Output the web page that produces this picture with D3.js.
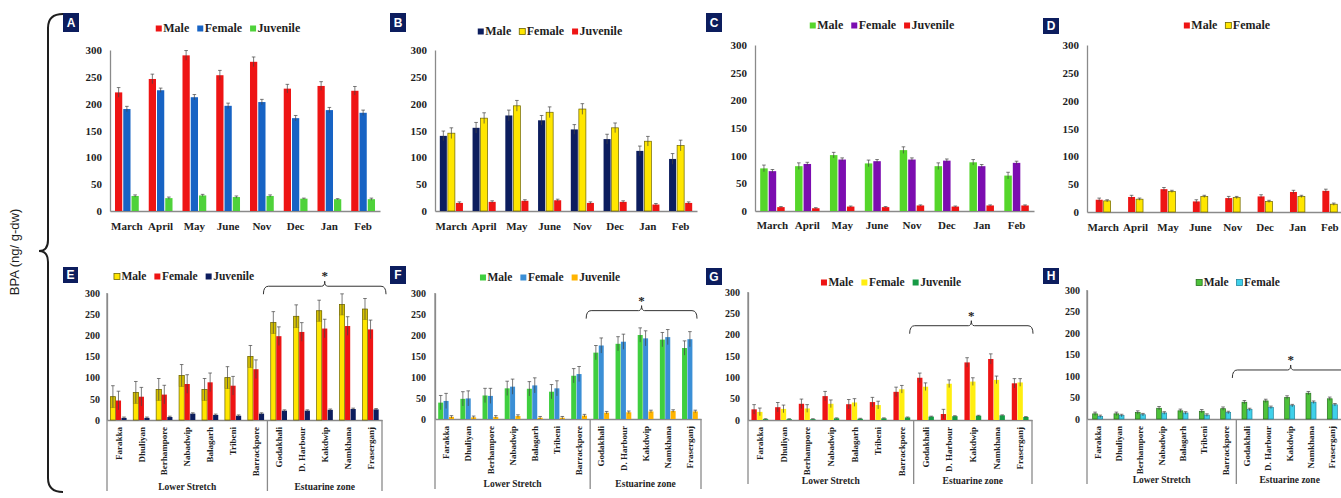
<!DOCTYPE html>
<html>
<head>
<meta charset="utf-8">
<script src="https://cdn.jsdelivr.net/npm/d3@7"></script>
<style>
  html, body { margin: 0; padding: 0; background: #fff; }
  svg { display: block; }
</style>
</head>
<body>
<svg id="fig" width="1341" height="498"></svg>
<script>
// ---- categories and tick labels ----
const months = ["March", "April", "May", "June", "Nov", "Dec", "Jan", "Feb"];
const sites = ["Farakka", "Dhuliyan", "Berhampore", "Nabadwip", "Balagarh", "Tribeni",
               "Barrackpore", "Godakhali", "D. Harbour", "Kakdwip", "Namkhana", "Fraserganj"];
const zones = ["Lower Stretch", "Estuarine zone"];
const zoneStart = ["Farakka", "Godakhali"];
const yTicks = [0, 50, 100, 150, 200, 250, 300];
const axisTitle = "BPA (ng/ g-dw)";

// ---- panel A (monthly) ----
const aMale = [221, 246, 290, 253, 278, 228, 233, 224];
const aMaleErr = [9, 9, 9, 9, 9, 8, 8, 8];
const aFemale = [190, 225, 212, 196, 203, 173, 188, 183];
const aFemaleErr = [5, 4, 5, 5, 5, 5, 5, 5];
const aJuv = [28, 24, 29, 26, 28, 23, 22, 22];
const aJuvErr = [2, 2, 2, 2, 2, 1, 1, 2];

// ---- panel B (monthly) ----
const bMale = [140, 155, 178, 169, 152, 134, 112, 97];
const bMaleErr = [9, 10, 10, 9, 9, 9, 9, 10];
const bFemale = [145, 173, 196, 184, 190, 155, 130, 122];
const bFemaleErr = [10, 10, 10, 10, 10, 9, 9, 10];
const bJuv = [15, 17, 19, 20, 15, 17, 12, 15];
const bJuvErr = [2, 2, 2, 2, 2, 2, 2, 2];

// ---- panel C (monthly) ----
const cMale = [77, 81, 101, 86, 110, 81, 88, 64];
const cMaleErr = [6, 6, 5, 6, 6, 6, 5, 6];
const cFemale = [72, 85, 93, 90, 93, 91, 81, 87];
const cFemaleErr = [3, 3, 3, 3, 3, 3, 3, 3];
const cJuv = [7, 5, 8, 7, 10, 8, 10, 10];
const cJuvErr = [1, 1, 1, 1, 1, 1, 1, 1];

// ---- panel D (monthly) ----
const dMale = [22, 27, 41, 19, 25, 28, 36, 38];
const dMaleErr = [3, 3, 3, 3, 3, 3, 3, 3];
const dFemale = [20, 23, 37, 28, 26, 19, 28, 14];
const dFemaleErr = [2, 2, 2, 2, 2, 2, 2, 2];

// ---- panel E (sites) ----
const eMale = [55, 65, 72, 105, 72, 100, 150, 230, 245, 258, 273, 262];
const eMaleErr = [26, 26, 26, 26, 26, 26, 26, 26, 27, 25, 25, 25];
const eFemale = [46, 55, 60, 85, 89, 81, 120, 198, 208, 216, 222, 214];
const eFemaleErr = [22, 22, 22, 22, 22, 22, 22, 22, 22, 22, 22, 22];
const eJuv = [5, 5, 7, 15, 12, 10, 15, 22, 22, 24, 26, 25];
const eJuvErr = [2, 2, 2, 2, 2, 2, 2, 2, 2, 2, 2, 2];

// ---- panel F (sites) ----
const fMale = [39, 48, 56, 73, 72, 65, 103, 158, 179, 200, 189, 169];
const fMaleErr = [17, 17, 17, 17, 17, 17, 17, 17, 17, 17, 17, 17];
const fFemale = [43, 49, 55, 77, 80, 73, 107, 175, 184, 192, 195, 190];
const fFemaleErr = [18, 18, 18, 18, 18, 18, 18, 18, 18, 18, 18, 18];
const fJuv = [5, 4, 5, 7, 3, 3, 8, 15, 16, 18, 19, 18];
const fJuvErr = [3, 3, 3, 3, 3, 3, 3, 3, 3, 3, 3, 3];

// ---- panel G (sites) ----
const gMale = [25, 30, 38, 56, 37, 42, 66, 99, 14, 135, 143, 86];
const gMaleErr = [11, 11, 11, 11, 11, 11, 11, 11, 11, 11, 12, 11];
const gFemale = [19, 26, 27, 38, 41, 35, 72, 78, 85, 90, 94, 88];
const gFemaleErr = [9, 9, 9, 9, 9, 9, 9, 9, 9, 9, 9, 9];
const gJuv = [2, 2, 2, 4, 3, 4, 6, 8, 9, 10, 11, 7];
const gJuvErr = [1, 1, 1, 1, 1, 1, 1, 1, 1, 1, 1, 1];

// ---- panel H (sites) ----
const hMale = [12, 12, 15, 25, 19, 18, 24, 39, 42, 50, 60, 47];
const hMaleErr = [4, 4, 4, 4, 4, 4, 4, 4, 4, 4, 4, 4];
const hFemale = [6, 8, 10, 14, 14, 9, 15, 22, 27, 31, 39, 33];
const hFemaleErr = [3, 3, 3, 3, 3, 3, 3, 3, 3, 3, 3, 3];

// ---- styling ----
const SERIF = "'Liberation Serif', 'Times New Roman', serif";
const SANS = "'Liberation Sans', Arial, sans-serif";
const AXIS = "#8a8a8a";
const INK = "#1e1e1e";
const NAVY = "#0c1d5e";
const RED = "#ee1414";
const YELLOW = "#ffe600";
const YSTROKE = "#6e6500";

const ser = (name, values, err, fill, stroke, band) => ({ name, values, err, fill, stroke, band });

// layout of the eight panels (pixel geometry lives here, values above)
const panels = [
  { id: "A", cats: months, x0: 110, x1: 380, y0: 211, yTop: 50, tickPad: 8, tickFont: 11,
    legend: [228, 32], box: [63, 13, 16, 19], labelBase: 230,
    series: [ser("Male", aMale, aMaleErr, RED), ser("Female", aFemale, aFemaleErr, "#1763c4"),
             ser("Juvenile", aJuv, aJuvErr, "#4fd23a")] },
  { id: "B", cats: months, x0: 435, x1: 697, y0: 211, yTop: 50, tickPad: 8, tickFont: 11,
    legend: [550, 35], box: [390, 13, 16, 19], labelBase: 230,
    series: [ser("Male", bMale, bMaleErr, NAVY), ser("Female", bFemale, bFemaleErr, YELLOW, YSTROKE),
             ser("Juvenile", bJuv, bJuvErr, RED)] },
  { id: "C", cats: months, x0: 755, x1: 1034, y0: 211, yTop: 45, tickPad: 8, tickFont: 11,
    legend: [882, 29], box: [706, 13, 16, 19], labelBase: 229,
    series: [ser("Male", cMale, cMaleErr, "#55d62a"), ser("Female", cFemale, cFemaleErr, "#7c0db0"),
             ser("Juvenile", cJuv, cJuvErr, RED)] },
  { id: "D", cats: months, x0: 1087, x1: 1346, y0: 212, yTop: 45, tickPad: 8, tickFont: 11,
    legend: [1227, 29], box: [1043, 18, 16, 16], labelBase: 231,
    series: [ser("Male", dMale, dMaleErr, RED), ser("Female", dFemale, dFemaleErr, YELLOW, YSTROKE)] },
  { id: "E", cats: sites, x0: 107, x1: 382, y0: 420, yTop: 293, tickPad: 7, tickFont: 10,
    legend: [184, 280], box: [63, 267, 15, 16], zoneBase: 490, sepBottom: 491, bracket: 316, bracketEnd: 386,
    series: [ser("Male", eMale, eMaleErr, YELLOW, YSTROKE, true), ser("Female", eFemale, eFemaleErr, RED),
             ser("Juvenile", eJuv, eJuvErr, NAVY)] },
  { id: "F", cats: sites, x0: 435, x1: 701, y0: 419, yTop: 293, tickPad: 9, tickFont: 10,
    legend: [550, 281], box: [390, 266, 16, 18], zoneBase: 487, sepBottom: 489, bracket: 258, bracketEnd: 697,
    series: [ser("Male", fMale, fMaleErr, "#3fcf3f"), ser("Female", fFemale, fFemaleErr, "#3b8fd6"),
             ser("Juvenile", fJuv, fJuvErr, "#ffb400")] },
  { id: "G", cats: sites, x0: 748, x1: 1032, y0: 420, yTop: 292, tickPad: 8, tickFont: 10,
    legend: [891, 286], box: [706, 268, 16, 17], zoneBase: 484, sepBottom: 484, bracket: 221, bracketEnd: 1033,
    series: [ser("Male", gMale, gMaleErr, RED), ser("Female", gFemale, gFemaleErr, "#ffee10"),
             ser("Juvenile", gJuv, gJuvErr, "#169a45")] },
  { id: "H", cats: sites, x0: 1087, x1: 1343, y0: 419, yTop: 290, tickPad: 7, tickFont: 10,
    legend: [1238, 286], box: [1043, 268, 16, 16], zoneBase: 483, sepBottom: 484, bracket: 114, bracketEnd: 1349,
    series: [ser("Male", hMale, hMaleErr, "#4dc23a", "#26701c"), ser("Female", hFemale, hFemaleErr, "#3fd0ea", "#23879e")] }
];

const svg = d3.select("#fig");

// big brace on the left with the shared y-axis title
svg.append("path")
  .attr("d", "M63,14 Q48,14 48,28 L48,240 Q48,251 39,251 Q48,251 48,262 L48,478 Q48,492 63,492")
  .attr("fill", "none").attr("stroke", INK).attr("stroke-width", 2);
svg.append("text")
  .attr("transform", "translate(19,252) rotate(-90)")
  .attr("text-anchor", "middle")
  .attr("font-family", SANS).attr("font-size", 13).attr("fill", INK)
  .text(axisTitle);

function drawPanel(p) {
  const g = svg.append("g").attr("class", "panel-" + p.id);
  const x = d3.scaleBand().domain(p.cats).range([p.x0, p.x1]);
  const y = d3.scaleLinear().domain([0, 300]).range([p.y0, p.yTop]);
  const isSites = p.cats === sites;

  // y axis
  const ya = g.append("g").attr("transform", `translate(${p.x0},0)`)
    .call(d3.axisLeft(y).tickValues(yTicks).tickSize(0).tickSizeOuter(0).tickPadding(p.tickPad));
  ya.select(".domain").attr("stroke", AXIS).attr("stroke-width", 1.3);
  ya.selectAll("text").attr("font-family", SERIF).attr("font-weight", "bold")
    .attr("font-size", p.tickFont).attr("fill", INK);

  // x axis
  const xa = g.append("g").attr("transform", `translate(0,${p.y0})`)
    .call(d3.axisBottom(x).tickSize(0).tickSizeOuter(0));
  xa.select(".domain").attr("stroke", AXIS).attr("stroke-width", 1.3);
  const xt = xa.selectAll("text").attr("font-family", SERIF).attr("font-weight", "bold").attr("fill", INK);
  if (isSites) {
    xt.attr("font-size", 9).attr("transform", "rotate(-90)")
      .attr("x", -7).attr("y", 0).attr("dy", "0.35em").attr("text-anchor", "end");
  } else {
    xt.attr("font-size", 11).attr("y", p.labelBase - p.y0).attr("dy", 0);
  }

  // bars + error bars
  const n = p.series.length;
  const bw = x.bandwidth() * (isSites ? 0.225 : 0.215);
  const gap = isSites ? 0.4 : 1;
  const groupW = n * bw + (n - 1) * gap;
  p.series.forEach((s, i) => {
    const off = (x.bandwidth() - groupW) / 2 + i * (bw + gap);
    const rows = p.cats.map((c, j) => ({ c, v: s.values[j], e: s.err[j] }));
    const sg = g.append("g");
    sg.selectAll("rect.bar").data(rows).join("rect").attr("class", "bar")
      .attr("x", d => x(d.c) + off).attr("y", d => y(d.v))
      .attr("width", bw).attr("height", d => y(0) - y(d.v))
      .attr("fill", s.fill)
      .attr("stroke", s.stroke || "none").attr("stroke-width", s.stroke ? 0.7 : 0);
    if (s.band) {
      sg.selectAll("rect.band").data(rows).join("rect").attr("class", "band")
        .attr("x", d => x(d.c) + off).attr("y", d => y(d.v))
        .attr("width", bw).attr("height", d => y(Math.max(0, d.v - d.e)) - y(d.v))
        .attr("fill", "#b5a400").attr("opacity", 0.55)
        .attr("stroke", YSTROKE).attr("stroke-width", 0.6);
    }
    const cx = d => x(d.c) + off + bw / 2;
    sg.selectAll("line.err").data(rows).join("line").attr("class", "err")
      .attr("x1", cx).attr("x2", cx)
      .attr("y1", d => y(Math.max(0, d.v - d.e))).attr("y2", d => y(d.v + d.e))
      .attr("stroke", "#444").attr("stroke-width", 0.7);
    sg.selectAll("line.cap").data(rows).join("line").attr("class", "cap")
      .attr("x1", d => cx(d) - 1.8).attr("x2", d => cx(d) + 1.8)
      .attr("y1", d => y(d.v + d.e)).attr("y2", d => y(d.v + d.e))
      .attr("stroke", "#444").attr("stroke-width", 0.7);
  });

  // zone separators, zone names and significance bracket
  if (isSites) {
    const bounds = [p.x0, x(zoneStart[1]), p.x1];
    g.selectAll("line.sep").data(bounds).join("line").attr("class", "sep")
      .attr("x1", d => d).attr("x2", d => d)
      .attr("y1", (d, i) => i === 0 ? p.yTop : p.y0).attr("y2", p.sepBottom)
      .attr("stroke", AXIS).attr("stroke-width", 1.3);
    g.selectAll("text.zone").data(zones).join("text").attr("class", "zone")
      .attr("x", (d, i) => (bounds[i] + bounds[i + 1]) / 2).attr("y", p.zoneBase)
      .attr("text-anchor", "middle").attr("font-family", SERIF).attr("font-weight", "bold")
      .attr("font-size", 9.5).attr("fill", INK).text(d => d);

    const xl = x(zoneStart[1]) - 4, xr = p.bracketEnd, xm = (xl + xr) / 2;
    const yh = y(p.bracket), ye = yh + 8;
    const path = d3.path();
    path.moveTo(xl, ye);
    path.quadraticCurveTo(xl, yh, xl + 5, yh);
    path.lineTo(xm - 3, yh);
    path.quadraticCurveTo(xm, yh, xm, yh - 5);
    path.quadraticCurveTo(xm, yh, xm + 3, yh);
    path.lineTo(xr - 5, yh);
    path.quadraticCurveTo(xr, yh, xr, ye);
    g.append("path").attr("d", path.toString()).attr("fill", "none")
      .attr("stroke", "#333").attr("stroke-width", 1);
    g.append("text").attr("x", xm).attr("y", yh - 6).attr("text-anchor", "middle")
      .attr("font-family", SERIF).attr("font-weight", "bold").attr("font-size", 13)
      .attr("fill", INK).text("*");
  }

  // legend
  const lg = g.append("g");
  const fs = isSites ? 11.5 : 12;
  let cursor = 0;
  p.series.forEach(s => {
    lg.append("rect").attr("x", cursor).attr("y", -6.5).attr("width", 6).attr("height", 6)
      .attr("fill", s.fill).attr("stroke", s.stroke || "none").attr("stroke-width", s.stroke ? 0.8 : 0);
    const t = lg.append("text").attr("x", cursor + 7.5).attr("y", 0)
      .attr("font-family", SERIF).attr("font-weight", "bold").attr("font-size", fs)
      .attr("fill", INK).text(s.name);
    cursor += 7.5 + t.node().getComputedTextLength() + 8;
  });
  const lw = cursor - 8;
  lg.attr("transform", `translate(${p.legend[0] - lw / 2},${p.legend[1]})`);

  // panel letter
  const [bx, by, bwid, bh] = p.box;
  g.append("rect").attr("x", bx).attr("y", by).attr("width", bwid).attr("height", bh).attr("fill", NAVY);
  g.append("text").attr("x", bx + bwid / 2).attr("y", by + bh / 2).attr("dy", "0.36em")
    .attr("text-anchor", "middle").attr("font-family", SANS).attr("font-weight", "bold")
    .attr("font-size", 12).attr("fill", "#fff").text(p.id);
}

panels.forEach(drawPanel);
</script>
</body>
</html>
